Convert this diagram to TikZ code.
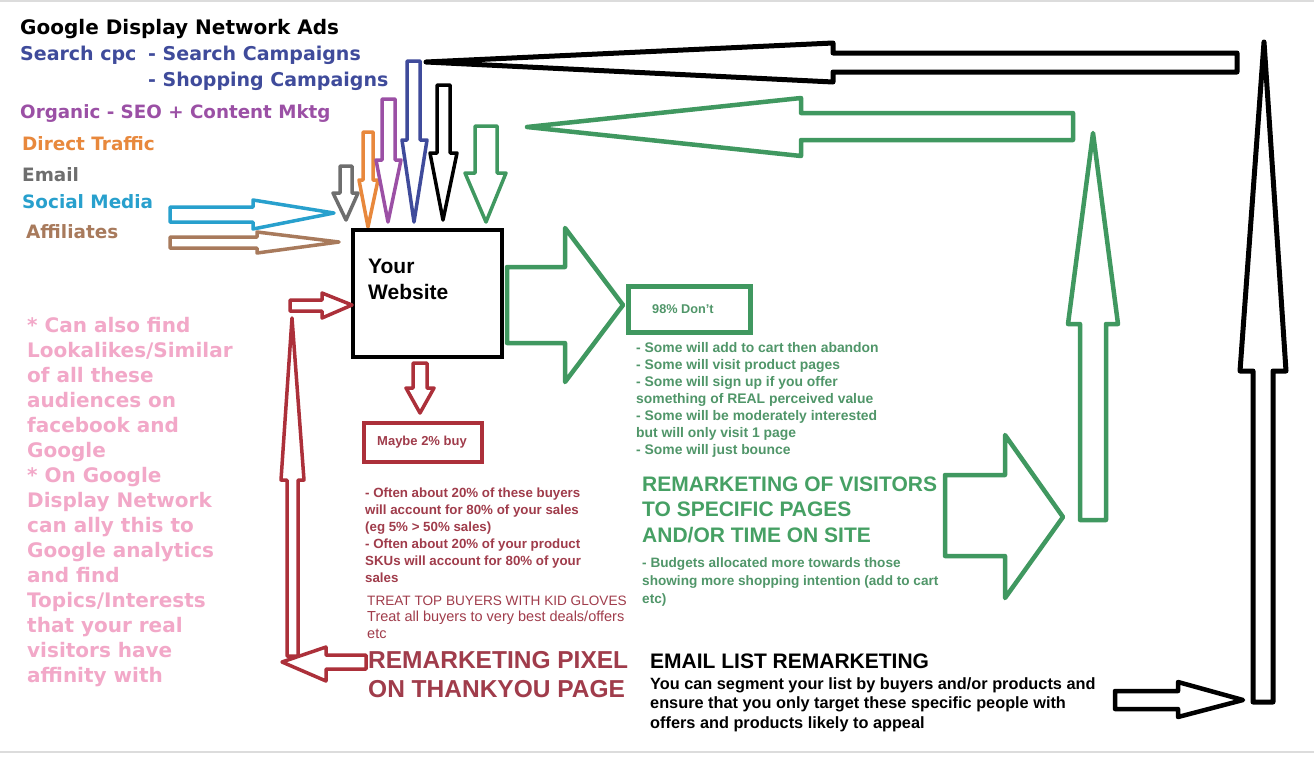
\documentclass[tikz,border=0pt]{standalone}
\usepackage{fontspec}
\setmainfont{Liberation Sans}
\newfontfamily\verd{DejaVu Sans}

\definecolor{gdnblue}{RGB}{63,75,155}
\definecolor{orgpurple}{RGB}{155,80,165}
\definecolor{dirorange}{RGB}{232,136,60}
\definecolor{mailgrey}{RGB}{110,110,110}
\definecolor{socialcyan}{RGB}{40,160,205}
\definecolor{affbrown}{RGB}{168,122,92}
\definecolor{arrgreen}{RGB}{64,152,96}
\definecolor{txtgreen}{RGB}{80,150,105}
\definecolor{headgreen}{RGB}{70,160,100}
\definecolor{remred}{RGB}{172,48,58}
\definecolor{redtxt}{RGB}{160,60,75}
\definecolor{pinktxt}{RGB}{242,168,200}
\definecolor{lightline}{RGB}{220,220,220}

\newcommand{\txtsize}[2]{\fontsize{#1}{#2}\selectfont}

% el ancla base de un texto de varias lineas es la de la ultima linea
\tikzset{
  outline/.style={line width=#1, line join=round},
  lbl/.style={anchor=base west, inner sep=0pt, align=left},
}

\begin{document}
\begin{tikzpicture}[x=1pt,y=-1pt]
\useasboundingbox (0,0) rectangle (1314,777);
\fill[white] (0,0) rectangle (1314,777);

% Bordes grises
\draw[lightline, line width=2] (0,1) -- (1314,1);
\draw[lightline, line width=2] (0,752) -- (1314,752);

% Fuentes de trafico
\node (gdn) [lbl, font=\verd\bfseries\txtsize{20}{24}] at (20,34) {Google Display Network Ads};
\node (cpc) [lbl, text=gdnblue, font=\verd\bfseries\txtsize{19}{26}] at (20,60) {Search cpc};
\node (camp) [lbl, text=gdnblue, font=\verd\bfseries\txtsize{19}{26}] at (148,86) {- Search Campaigns\\- Shopping Campaigns};
\node (org) [lbl, text=orgpurple, font=\verd\bfseries\txtsize{18.3}{24}] at (20,118) {Organic - SEO + Content Mktg};
\node (direct) [lbl, text=dirorange, font=\verd\bfseries\txtsize{18.4}{24}] at (22,150) {Direct Traffic};
\node (mail) [lbl, text=mailgrey, font=\verd\bfseries\txtsize{18.4}{24}] at (22,181) {Email};
\node (social) [lbl, text=socialcyan, font=\verd\bfseries\txtsize{18.4}{24}] at (22,208) {Social Media};
\node (aff) [lbl, text=affbrown, font=\verd\bfseries\txtsize{18.4}{24}] at (26,238) {Affiliates};

% Nota rosa
\node (lookalike) [lbl, text=pinktxt, font=\verd\bfseries\txtsize{20}{25}] at (27,682)
  {* Can also find\\Lookalikes/Similar\\of all these\\audiences on\\facebook and\\Google\\* On Google\\Display Network\\can ally this to\\Google analytics\\and find\\Topics/Interests\\that your real\\visitors have\\affinity with};

% Flechas pequenas hacia la web
\draw[outline=3.5, socialcyan] (170,207) -- (253,207) -- (253,200) -- (334,213) -- (253,229) -- (253,222) -- (170,222) -- cycle;
\draw[outline=3.5, affbrown] (170,237) -- (257,237) -- (257,232) -- (339,242) -- (257,253) -- (257,248) -- (170,248) -- cycle;
\draw[outline=3.5, mailgrey] (340,166) -- (352,166) -- (352,193) -- (358,193) -- (346,220) -- (333,193) -- (340,193) -- cycle;
\draw[outline=3.5, dirorange] (363,132) -- (373,132) -- (373,180) -- (378,180) -- (368,227) -- (359,180) -- (363,180) -- cycle;
\draw[outline=3.5, orgpurple] (382,99) -- (395,99) -- (395,160) -- (401,160) -- (388,222) -- (376,160) -- (382,160) -- cycle;
\draw[outline=3.5, gdnblue] (407,61) -- (420,61) -- (420,140) -- (427,140) -- (414,222) -- (402,140) -- (407,140) -- cycle;
\draw[outline=3.5, black] (437,85) -- (450,85) -- (450,153) -- (457,153) -- (443,220) -- (430,153) -- (437,153) -- cycle;
\draw[outline=3.5, arrgreen] (475,126) -- (497,126) -- (497,173) -- (506,173) -- (486,222) -- (465,173) -- (475,173) -- cycle;

% La web
\node (site) [draw, line width=4.5, minimum width=149, minimum height=127, inner sep=0pt] at (427.5,293.5) {};
\node (sitelbl) [lbl, font=\bfseries\txtsize{21}{26}] at (368,299) {Your\\Website};

% 98% no compran
\draw[outline=4.5, arrgreen] (507,267) -- (565,267) -- (565,228) -- (623,305) -- (565,382) -- (565,343) -- (507,343) -- cycle;
\node (dont) [draw=arrgreen, line width=5, minimum width=122, minimum height=46, inner sep=0pt] at (689,309) {};
\node (dontlbl) [lbl, text=txtgreen, font=\bfseries\txtsize{12.7}{15}] at (652,313) {98\% Don't};
\node (dontlist) [lbl, text=txtgreen, font=\bfseries\txtsize{13.9}{17}] at (636,454)
  {- Some will add to cart then abandon\\- Some will visit product pages\\- Some will sign up if you offer\\something of REAL perceived value\\- Some will be moderately interested\\but will only visit 1 page\\- Some will just bounce};
\node (visitors) [lbl, text=headgreen, font=\bfseries\txtsize{21}{25.5}] at (642,542)
  {REMARKETING OF VISITORS\\TO SPECIFIC PAGES\\AND/OR TIME ON SITE};
\node (budget) [lbl, text=txtgreen, font=\bfseries\txtsize{13.6}{18}] at (642,603)
  {- Budgets allocated more towards those\\showing more shopping intention (add to cart\\etc)};

% Vuelta verde
\draw[outline=4.5, arrgreen] (945,475) -- (1005,475) -- (1005,435) -- (1063,517) -- (1005,598) -- (1005,556) -- (945,556) -- cycle;
\draw[outline=4.5, arrgreen] (1080,520) -- (1080,324) -- (1068,324) -- (1093,133) -- (1118,324) -- (1106,324) -- (1106,520) -- cycle;
\draw[outline=4.5, arrgreen] (1073,113) -- (801,113) -- (801,98) -- (527,127) -- (801,156) -- (801,140) -- (1073,140) -- cycle;

% 2% compran
\draw[outline=3.5, remred] (413,363) -- (427,363) -- (427,388) -- (434,388) -- (420,413) -- (406,388) -- (413,388) -- cycle;
\node (buy) [draw=remred, line width=4.5, minimum width=118, minimum height=39, inner sep=0pt] at (423,442.5) {};
\node (buylbl) [lbl, text=redtxt, font=\bfseries\txtsize{13}{15}] at (377,445) {Maybe 2\% buy};
\node (buylist) [lbl, text=redtxt, font=\bfseries\txtsize{13.3}{17}] at (365,582)
  {- Often about 20\% of these buyers\\will account for 80\% of your sales\\(eg 5\% > 50\% sales)\\- Often about 20\% of your product\\SKUs will account for 80\% of your\\sales};
\node (gloves) [lbl, text=redtxt, font=\txtsize{14.5}{16.5}] at (367,638)
  {{\txtsize{13.6}{16.5}TREAT TOP BUYERS WITH KID GLOVES}\\Treat all buyers to very best deals/offers\\etc};
\node (pixel) [lbl, text=redtxt, font=\bfseries\txtsize{24.5}{29}] at (368,697) {REMARKETING PIXEL\\ON THANKYOU PAGE};

% Vuelta roja
\draw[outline=3.5, remred] (366,655) -- (326,655) -- (326,647) -- (282,662) -- (326,681) -- (326,669) -- (366,669) -- cycle;
\draw[outline=3.5, remred] (287,656) -- (287,480) -- (281,480) -- (292,318) -- (304,480) -- (298,480) -- (298,656) -- cycle;
\draw[outline=3.5, remred] (290,300) -- (322,300) -- (322,293) -- (352,305) -- (322,318) -- (322,311) -- (290,311) -- cycle;

% Email
\node (email) [lbl, font=\bfseries\txtsize{21}{24}] at (650,668) {EMAIL LIST REMARKETING};
\node (emailtxt) [lbl, font=\bfseries\txtsize{16.3}{19.5}] at (650,728)
  {You can segment your list by buyers and/or products and\\ensure that you only target these specific people with\\offers and products likely to appeal};

% Vuelta negra
\draw[outline=4.5, black] (1115,691) -- (1178,691) -- (1178,682) -- (1243,700) -- (1178,717) -- (1178,709) -- (1115,709) -- cycle;
\draw[outline=5, black] (1253,702) -- (1253,371) -- (1240,371) -- (1264,42) -- (1286,371) -- (1273,371) -- (1273,702) -- cycle;
\draw[outline=5, black] (1237,53) -- (833,53) -- (833,43) -- (426,62) -- (833,82) -- (833,72) -- (1237,72) -- cycle;

\end{tikzpicture}
\end{document}
